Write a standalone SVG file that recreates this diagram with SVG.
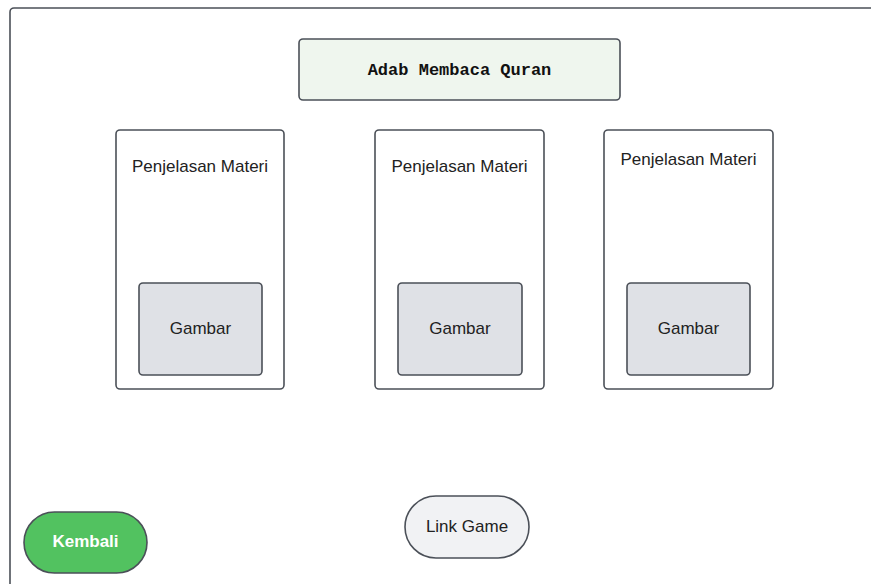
<svg xmlns="http://www.w3.org/2000/svg" width="871" height="584" viewBox="0 0 871 584">
<style>
.box{stroke:#4b5058;stroke-width:1.6}
.t{font-family:"Liberation Sans",Arial,sans-serif;font-size:17px;fill:#222;text-anchor:middle}
.card{fill:#ffffff}
.img{fill:#dfe1e6}
</style>
<rect x="0" y="0" width="871" height="584" fill="#ffffff"/>
<g id="frame">
<rect class="box" x="10" y="8" width="900" height="620" rx="4" fill="#ffffff"/>
</g>
<g id="title">
<rect class="box" x="299" y="39" width="321" height="61" rx="4" fill="#eff6ee"/>
<text x="459.5" y="75" style="font-family:'Liberation Mono','Courier New',monospace;font-size:17px;font-weight:bold;fill:#111;text-anchor:middle">Adab Membaca Quran</text>
</g>
<g id="card1">
<rect class="box card" x="116" y="130" width="168" height="259" rx="4"/>
<text class="t" x="200" y="172">Penjelasan Materi</text>
</g>
<g id="gambar1">
<rect class="box img" x="139" y="283" width="123" height="92" rx="4"/>
<text class="t" x="200.5" y="333.5">Gambar</text>
</g>
<g id="card2">
<rect class="box card" x="375" y="130" width="169" height="259" rx="4"/>
<text class="t" x="459.5" y="172">Penjelasan Materi</text>
</g>
<g id="gambar2">
<rect class="box img" x="398" y="283" width="124" height="92" rx="4"/>
<text class="t" x="460" y="333.5">Gambar</text>
</g>
<g id="card3">
<rect class="box card" x="604" y="130" width="169" height="259" rx="4"/>
<text class="t" x="688.5" y="165">Penjelasan Materi</text>
</g>
<g id="gambar3">
<rect class="box img" x="627" y="283" width="123" height="92" rx="4"/>
<text class="t" x="688.5" y="333.5">Gambar</text>
</g>
<g id="kembali">
<rect class="box" x="24" y="512" width="123" height="61" rx="30.5" fill="#52c260"/>
<text class="t" x="85.5" y="547" style="font-weight:bold;fill:#ffffff">Kembali</text>
</g>
<g id="linkgame">
<rect class="box" x="405" y="496" width="124" height="62" rx="31" fill="#f1f2f4"/>
<text class="t" x="467" y="531.5">Link Game</text>
</g>
<g id="connectors"></g>
</svg>
